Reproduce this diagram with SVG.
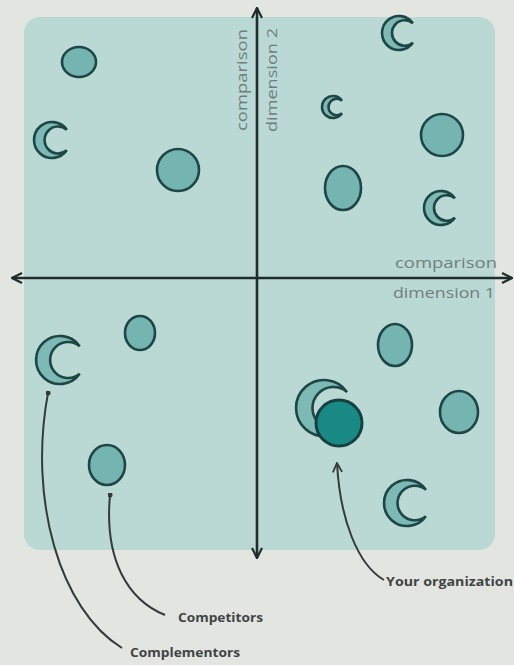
<svg xmlns="http://www.w3.org/2000/svg" xmlns:xlink="http://www.w3.org/1999/xlink" width="514" height="665" viewBox="0 0 514 665">
<style>
.bg{fill:#e3e5e1}
.panel{fill:#bad8d4}
.dot{fill:#74b5b2;stroke:#1d4644;stroke-width:2.6}
.moon{fill:#7db9b5;stroke:#1d4644;stroke-width:2.6}
.org{fill:#198985;stroke:#17403e;stroke-width:3}
.axis{fill:none;stroke:#1f2d2c;stroke-width:2.6}
.lead{fill:none;stroke:#343b3a;stroke-width:2}
.axlbl{font-family:"Open Sans","DejaVu Sans",sans-serif;font-size:14px;fill:#6f7f7d}
.lbl{font-family:"Open Sans","DejaVu Sans",sans-serif;font-size:12px;font-weight:700;fill:#3e4544}
</style>
<defs>
<path id="moonShape" d="M16.4,-11.5 A20,20 0 1 0 16.4,11.5 A15,15 0 1 1 16.4,-11.5 Z" vector-effect="non-scaling-stroke"/>
<marker id="vhead" viewBox="0 0 12 12" refX="11" refY="6" markerWidth="12" markerHeight="12" markerUnits="userSpaceOnUse" orient="auto-start-reverse">
<path d="M1,1 L11,6 L1,11" fill="none" stroke="#1f2d2c" stroke-width="2.2"/>
</marker>
<marker id="lhead" viewBox="0 0 12 12" refX="11" refY="6" markerWidth="11" markerHeight="11" markerUnits="userSpaceOnUse" orient="auto">
<path d="M1,1 L11,6 L1,11" fill="none" stroke="#343b3a" stroke-width="2"/>
</marker>
<marker id="ldot" viewBox="0 0 6 6" refX="3" refY="3" markerWidth="5" markerHeight="5" markerUnits="userSpaceOnUse">
<circle cx="3" cy="3" r="3" fill="#343b3a"/>
</marker>
</defs>
<rect class="bg" x="0" y="0" width="514" height="665"/>
<rect class="panel" x="24" y="17" width="471" height="533" rx="16"/>

<g id="nodes">
<g id="c1"><ellipse class="dot" cx="79" cy="62" rx="17" ry="15"/></g>
<g id="c2"><ellipse class="dot" cx="178" cy="170" rx="21" ry="21"/></g>
<g id="c3"><ellipse class="dot" cx="442" cy="135" rx="21" ry="21"/></g>
<g id="c4"><ellipse class="dot" cx="343" cy="188" rx="18" ry="22"/></g>
<g id="c5"><ellipse class="dot" cx="140" cy="333" rx="15" ry="17"/></g>
<g id="c6"><ellipse class="dot" cx="107" cy="465" rx="18" ry="20"/></g>
<g id="c7"><ellipse class="dot" cx="395" cy="345" rx="17" ry="21"/></g>
<g id="c8"><ellipse class="dot" cx="459" cy="412" rx="19" ry="21"/></g>
<g id="m1"><use href="#moonShape" class="moon" transform="translate(399,33) scale(0.85)"/></g>
<g id="m2"><use href="#moonShape" class="moon" transform="translate(333,107) scale(0.55)"/></g>
<g id="m3"><use href="#moonShape" class="moon" transform="translate(441,208) scale(0.85)"/></g>
<g id="m4"><use href="#moonShape" class="moon" transform="translate(52,140) scale(0.9)"/></g>
<g id="m5"><use href="#moonShape" class="moon" transform="translate(60,360) scale(1.2)"/></g>
<g id="m6"><use href="#moonShape" class="moon" transform="translate(407,503) scale(1.15)"/></g>
<g id="m7"><use href="#moonShape" class="moon" transform="translate(324,408) scale(1.4)"/></g>
<g id="org"><circle class="org" cx="339" cy="423" r="23"/></g>
</g>

<g id="connectors">
<line class="axis" x1="257" y1="558" x2="257" y2="8" marker-start="url(#vhead)" marker-end="url(#vhead)"/>
<line class="axis" x1="12" y1="278" x2="512" y2="278" marker-start="url(#vhead)" marker-end="url(#vhead)"/>
<path class="lead" d="M48,393 C28,500 60,610 122,648" marker-start="url(#ldot)"/>
<path class="lead" d="M110,495 C104,560 128,600 165,615" marker-start="url(#ldot)"/>
<path class="lead" d="M384,580 C358,565 340,520 337,463" marker-end="url(#lhead)"/>
</g>

<g id="labels">
<text class="axlbl" x="446" y="268" text-anchor="middle" textLength="102" lengthAdjust="spacingAndGlyphs">comparison</text>
<text class="axlbl" x="444" y="298" text-anchor="middle" textLength="102" lengthAdjust="spacingAndGlyphs">dimension 1</text>
<text class="axlbl" text-anchor="middle" transform="translate(247,80) rotate(-90)" textLength="102" lengthAdjust="spacingAndGlyphs">comparison</text>
<text class="axlbl" text-anchor="middle" transform="translate(277,80) rotate(-90)" textLength="104" lengthAdjust="spacingAndGlyphs">dimension 2</text>
<text class="lbl" x="386" y="586" textLength="127" lengthAdjust="spacingAndGlyphs">Your organization</text>
<text class="lbl" x="178" y="622" textLength="85" lengthAdjust="spacingAndGlyphs">Competitors</text>
<text class="lbl" x="130" y="657" textLength="110" lengthAdjust="spacingAndGlyphs">Complementors</text>
</g>
</svg>
